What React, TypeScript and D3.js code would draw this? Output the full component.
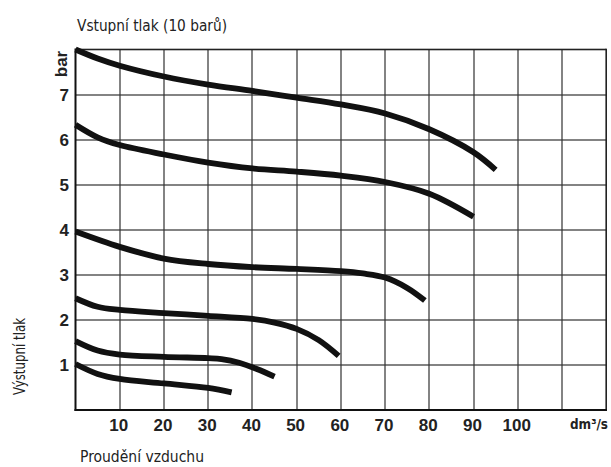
import React from "react";
import * as d3 from "d3";

const W = 611;
const H = 467;

const xTicks = [10, 20, 30, 40, 50, 60, 70, 80, 90, 100];
const xGrid = [10, 20, 30, 40, 50, 60, 70, 80, 90, 100, 110];
const yTicks = [1, 2, 3, 4, 5, 6, 7];

const curve1: [number, number][] = [[0, 8.0], [5, 7.8], [10, 7.64], [20, 7.4], [30, 7.22], [40, 7.08], [50, 6.93], [60, 6.78], [70, 6.58], [80, 6.23], [90, 5.72], [95, 5.33]];
const curve2: [number, number][] = [[0, 6.33], [5, 6.05], [10, 5.88], [20, 5.67], [30, 5.49], [40, 5.36], [50, 5.29], [60, 5.2], [70, 5.06], [80, 4.8], [90, 4.29]];
const curve3: [number, number][] = [[0, 3.96], [10, 3.62], [20, 3.36], [30, 3.24], [40, 3.17], [50, 3.13], [60, 3.08], [65, 3.03], [70, 2.94], [75, 2.71], [79, 2.43]];
const curve4: [number, number][] = [[0, 2.48], [5, 2.29], [10, 2.22], [20, 2.15], [30, 2.09], [40, 2.02], [45, 1.94], [50, 1.8], [55, 1.55], [59.5, 1.2]];
const curve5: [number, number][] = [[0, 1.53], [5, 1.32], [10, 1.23], [20, 1.18], [30, 1.15], [33, 1.13], [37, 1.05], [41, 0.91], [45, 0.74]];
const curve6: [number, number][] = [[0, 1.02], [5, 0.8], [10, 0.69], [20, 0.59], [30, 0.49], [35.3, 0.39]];
const curves = [curve1, curve2, curve3, curve4, curve5, curve6];

const x = d3.scaleLinear().domain([0, 120]).range([75.5, 606.2]);
const y = d3.scaleLinear().domain([0, 8]).range([410, 49.5]);

const line = d3
  .line<[number, number]>()
  .x((d) => x(d[0]))
  .y((d) => y(d[1]))
  .curve(d3.curveCatmullRom.alpha(0.5));

const narrow = "'Liberation Sans Narrow', 'DejaVu Sans Condensed', 'Liberation Sans', sans-serif";
const bold = "'Liberation Sans', Arial, sans-serif";

export default function App() {
  const left = x(0);
  const right = x(120);
  const bottom = y(0);
  const top = y(8);
  return (
    <svg width={W} height={H} style={{ position: "absolute", left: 0, top: 0, background: "#fff" }}>
      {xGrid.map((v) => (
        <rect key={"gx" + v} x={Math.round(x(v)) - 0.6} y={top} width={1.2} height={bottom - top} fill="#333" />
      ))}
      {yTicks.map((v) => (
        <rect key={"gy" + v} x={left} y={Math.round(y(v)) - 0.6} width={right - left} height={1.2} fill="#333" />
      ))}
      <rect x={left} y={top - 0.8} width={right - left} height={1.6} fill="#222" />
      <rect x={right - 0.8} y={top - 0.8} width={1.6} height={bottom - top} fill="#222" />
      <rect x={left - 1} y={top - 1} width={2} height={bottom - top + 2} fill="#111" />
      <rect x={left - 1} y={bottom - 1} width={right - left + 1.8} height={2} fill="#111" />
      {curves.map((c, i) => (
        <path key={"c" + i} d={line(c) || ""} fill="none" stroke="#111" strokeWidth={5.8} strokeLinecap="butt" />
      ))}
      {yTicks.map((v) => (
        <text key={"yl" + v} x={69} y={y(v) + 6} textAnchor="end" fontFamily={bold} fontWeight="bold" fontSize={17} fill="#222">
          {v}
        </text>
      ))}
      <text transform={`translate(67,64) rotate(-90)`} textAnchor="middle" fontFamily={bold} fontWeight="bold" fontSize={17} fill="#222">
        bar
      </text>
      {xTicks.map((v) => (
        <text key={"xl" + v} x={x(v) - 1} y={431} textAnchor="middle" fontFamily={bold} fontWeight="bold" fontSize={17} fill="#222">
          {v}
        </text>
      ))}
      <text x={570} y={429} fontFamily={narrow} fontWeight="bold" fontSize={14} fill="#222" textLength={38} lengthAdjust="spacingAndGlyphs">
        dm³/s
      </text>
      <text x={77} y={30.5} fontFamily={narrow} fontSize={16} fill="#222" textLength={150} lengthAdjust="spacingAndGlyphs">
        Vstupní tlak (10 barů)
      </text>
      <text x={80} y={462} fontFamily={narrow} fontSize={16} fill="#222" textLength={124} lengthAdjust="spacingAndGlyphs">
        Proudění vzduchu
      </text>
      <text transform={`translate(25,356.5) rotate(-90)`} textAnchor="middle" fontFamily={narrow} fontSize={16} fill="#222" textLength={77} lengthAdjust="spacingAndGlyphs">
        Výstupní tlak
      </text>
    </svg>
  );
}
